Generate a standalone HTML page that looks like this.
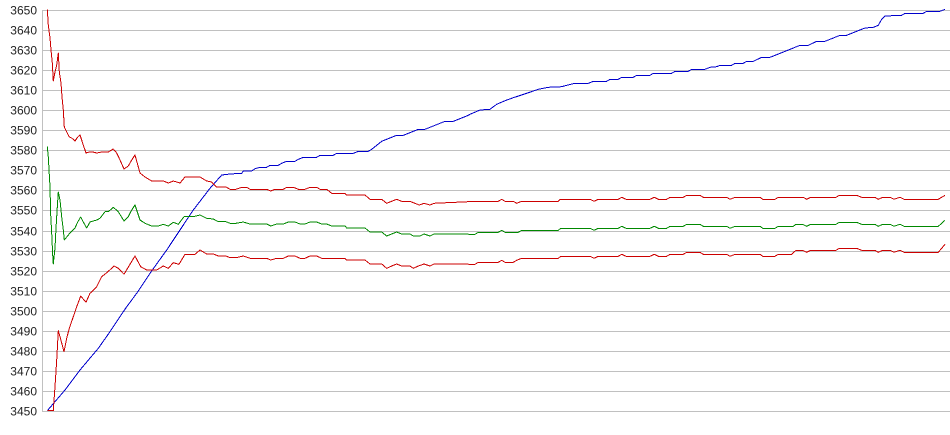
<!DOCTYPE html>
<html><head><meta charset="utf-8"><style>
html,body{margin:0;padding:0;background:#fff;width:950px;height:435px;overflow:hidden}
svg{display:block}
text{font-family:"Liberation Sans",Arial,sans-serif;font-size:12px;fill:#222}
</style></head><body>
<svg width="950" height="435" viewBox="0 0 950 435" xmlns="http://www.w3.org/2000/svg">
<g stroke="#c0c0c0" stroke-width="1" shape-rendering="crispEdges">
<line x1="42" y1="10.5" x2="950" y2="10.5"/>
<line x1="42" y1="30.5" x2="950" y2="30.5"/>
<line x1="42" y1="50.5" x2="950" y2="50.5"/>
<line x1="42" y1="70.5" x2="950" y2="70.5"/>
<line x1="42" y1="90.5" x2="950" y2="90.5"/>
<line x1="42" y1="110.5" x2="950" y2="110.5"/>
<line x1="42" y1="130.5" x2="950" y2="130.5"/>
<line x1="42" y1="150.5" x2="950" y2="150.5"/>
<line x1="42" y1="170.5" x2="950" y2="170.5"/>
<line x1="42" y1="190.5" x2="950" y2="190.5"/>
<line x1="42" y1="210.5" x2="950" y2="210.5"/>
<line x1="42" y1="231.5" x2="950" y2="231.5"/>
<line x1="42" y1="251.5" x2="950" y2="251.5"/>
<line x1="42" y1="271.5" x2="950" y2="271.5"/>
<line x1="42" y1="291.5" x2="950" y2="291.5"/>
<line x1="42" y1="311.5" x2="950" y2="311.5"/>
<line x1="42" y1="331.5" x2="950" y2="331.5"/>
<line x1="42" y1="351.5" x2="950" y2="351.5"/>
<line x1="42" y1="371.5" x2="950" y2="371.5"/>
<line x1="42" y1="391.5" x2="950" y2="391.5"/>
<line x1="42" y1="411.5" x2="950" y2="411.5"/>
<line x1="42.5" y1="10" x2="42.5" y2="412"/>
</g>
<g text-anchor="end" dominant-baseline="central">
<text x="37" y="10.5">3650</text>
<text x="37" y="30.5">3640</text>
<text x="37" y="50.5">3630</text>
<text x="37" y="70.5">3620</text>
<text x="37" y="90.5">3610</text>
<text x="37" y="110.5">3600</text>
<text x="37" y="130.5">3590</text>
<text x="37" y="150.5">3580</text>
<text x="37" y="170.5">3570</text>
<text x="37" y="190.5">3560</text>
<text x="37" y="210.5">3550</text>
<text x="37" y="231.5">3540</text>
<text x="37" y="251.5">3530</text>
<text x="37" y="271.5">3520</text>
<text x="37" y="291.5">3510</text>
<text x="37" y="311.5">3500</text>
<text x="37" y="331.5">3490</text>
<text x="37" y="351.5">3480</text>
<text x="37" y="371.5">3470</text>
<text x="37" y="391.5">3460</text>
<text x="37" y="411.5">3450</text>
</g>
<g fill="none" stroke-width="1" stroke-linejoin="round" shape-rendering="crispEdges">
<polyline stroke="#0000cc" points="47.3,410.7 65,390 80,370 98.3,348.3 110,331.7 126.7,306.7 136.7,293.3 150,273.3 166.7,250 180,230 193.3,210 210,188.3 221.7,175 230,174 241.7,173.3 243.3,171 251.7,171 255,168.7 260,167.3 266.7,167.3 270,165.3 278.3,165.3 281.7,163.3 286.7,161.3 295,161.3 298.3,159.3 303.3,157.3 316.7,157.3 320,155.3 333.3,155.3 336.7,153.3 353.3,153.3 358.3,151.3 368.3,151.3 371.7,149.3 376.7,145.3 381.7,141.3 386.7,139.3 391.7,137.3 396.7,135.3 403.3,135.3 408.3,133.3 413.3,131.3 418.3,129.3 425,129.3 430,127.3 435,125.3 440,123.3 445,121.3 453.3,121.3 458.3,119.3 463.3,117.3 468.3,115.3 470,114.3 480,110 490,109.3 496.7,104.3 505,100.7 513.3,97.7 526.7,93.3 538.3,89.3 548.3,87.3 561.7,86.7 566.7,85.3 575,83.3 588.3,83.3 593.3,81.3 606.7,81.3 610,79.3 618.3,79.3 621.7,77.3 633.3,77.3 636.7,75.3 650,75.3 653.3,73.3 671.7,73.3 675,71.3 688.3,71.3 691.7,69.3 705,69.3 710,67.3 716.7,66.7 720,65.3 731.7,65.3 735,63.3 743.3,63.3 746.7,61.3 753.3,61.3 761.7,57.3 770,57.3 776.7,54.7 786.7,50.7 795,47.3 800,45.3 808.3,45.3 816.7,41.3 825,41.3 833.3,38 840,35.3 846.7,35.3 856.7,31.3 865,28 873.3,27.3 878.3,25.3 881.7,19.3 885,16 901.7,15.3 905,13.3 923.3,13.3 926.7,11.3 940,11.3 945,9.3"/>
<polyline stroke="#cc0000" points="47.3,9.3 48.3,25 50,38 51,50 52.3,63 53.3,81 55,72 56.7,65 58.3,53 59.3,72 61,83 62,97 63.3,110 64.3,127 66.7,132 69.3,137 71.7,138 75,141 77.7,137 80,135 83.3,145 86,153 89.3,152 92.7,152 96.7,153 101.7,152 108.3,152 113.3,149 116.7,153 120,160 124,169 128.3,166 131.7,160 135,155 140,173 145,177 151.7,181 163.3,181 168.3,183 173.3,181 176.7,182 180,183 185,177 200,177 206.7,181 211.7,182 216.7,187 226,187 230,189.3 236,189.3 241.7,187.3 246.7,187.3 250,189.3 266.7,189.3 270.7,191 275,189.3 283.3,189.3 286.7,187.3 293.3,187.3 298.3,189.3 305,189.3 310,187.3 316.7,187.3 320,189.3 326.7,189.3 331.7,193.3 345,193.3 346.7,195 365,195 370,199.3 381.7,199.3 386.7,203.3 391.7,201.3 396.7,199.3 401.7,201.3 410,201.3 413.3,202.7 419.3,205 424,203.3 430,205 434,203.3 476.7,201.3 498.3,201.3 501.7,199.3 505,201.3 513.3,201.3 516.7,203.3 521.7,201.3 558.3,201.3 560,199.3 590,199.3 594,201.3 598.3,199.3 618.3,199.3 621.7,197.3 626,199.3 650,199.3 654.3,197.3 658.3,199.3 666.7,199.3 670,197.3 683.3,197.3 686.7,195.3 700,195.3 703.3,197.3 726.7,197.3 730,199.3 735,197.3 760,197.3 762.7,199.3 775,199.3 778.3,197.3 803.3,197.3 806.7,199.3 810.7,197.3 836,197.3 839.3,195.3 856.7,195.3 861.7,197.3 875,197.3 878.3,199.3 882.7,197.3 890,197.3 894,199.3 900,197.3 904,199.3 938.3,199.3 945,195.3"/>
<polyline stroke="#008800" points="47.3,146.7 48.3,157 50,187 50.7,215 51.7,233 52.7,255 53.3,264 55,248 56,228 57.3,207 58.3,192 60,200 61.7,217 63.3,230 64.3,240 66.7,237 70,233 75,228 77.7,222 80.7,217 83.3,222 86.7,228 90,222 96.7,220 100,218.3 105,211.7 108.3,211.7 113.3,207.3 118.3,211.7 124,221 128.3,216.7 131.7,210 135,205 140,220 145,223.3 151.7,226 158.3,226 163.3,224.3 168.3,226 173.3,222.3 178.3,224.3 184,216.7 193.3,216.7 200,215 206.7,218.3 213.3,219 218.3,221.7 226,221.7 230,223.3 236,223.3 243.3,222 250,224 266.7,224 270.7,226 276.7,224 283.3,224 288.3,222 295,222 300,224 305,224 310,222 316.7,222 321.7,224 326.7,224 331.7,226 345,226 346.7,228 365,228 370,232 381.7,232 386.7,236 391.7,234 396.7,232 401.7,234 410,234 413.3,236 420,236 424,234 430,236 434,234 475,234.3 478.3,232.3 498.3,232.3 501.7,230.3 505,232.3 518.3,232.3 521.7,230.3 558.3,230.3 560.7,228.3 590,228.3 594,230.3 598.3,228.3 618.3,228.3 621.7,226.3 626,228.3 650,228.3 654.3,226.3 658.3,228.3 666.7,228.3 670,226.3 683.3,226.3 686.7,224.3 700,224.3 703.3,226.3 726.7,226.3 730,228.3 735,226.3 760,226.3 762.7,228.3 775,228.3 778.3,226.3 793.3,226.3 796,224.3 802.7,224.3 806.7,226.3 810.7,224.3 836,224.3 839.3,222.3 856.7,222.3 861.7,224.3 875,224.3 878.3,226.3 882.7,224.3 890,224.3 894,226.3 900,224.3 904,226.3 938.3,226.3 945,220.3"/>
<polyline stroke="#cc0000" points="47.3,410.7 53.3,410.7 55,386.7 56.7,360 58.3,330.7 60,336.7 64,351.7 66.7,338.3 69.3,328.3 73.3,316.7 76.7,306.7 80.7,296 86,302.3 90,293.3 96.7,286.7 101.7,276.7 107.3,272.3 114,266 118.3,268.3 124,274.3 130,264.3 135,256 140.7,266.7 146.7,270 156.7,270 163.3,266 168.3,268.3 173.3,262.7 179,264.3 185,254.3 195,254.3 200,250 206.7,254 213.3,254 218.3,256 226,256 230,257.7 236,257.7 243.3,256 250,258.3 266.7,258.3 270.7,260 276.7,258.3 283.3,258.3 288.3,256 295,256 300,258.3 305,258.3 310,256 316.7,256 321.7,258.3 345,258.3 346.7,260 365,260 370,264 381.7,264 386.7,268.3 391.7,266 396.7,264 401.7,266 410,266 413.3,268.3 418.3,266 424,264 430,266 434,264 475,264.3 478.3,262.3 498.3,262.3 501.7,260.3 505,262.3 513.3,262.3 516.7,260.3 521.7,258.3 558.3,258.3 560.7,256.3 590,256.3 594,258.3 598.3,256.3 618.3,256.3 621.7,254.3 626,256.3 650,256.3 654.3,254.3 658.3,256.3 666.7,256.3 670,254.3 683.3,254.3 686.7,252.3 700,252.3 703.3,254.3 726.7,254.3 730,256.3 735,254.3 760,254.3 762.7,256.3 775,256.3 778.3,254.3 791.7,254.3 796,250.3 802.7,250.3 806.7,252.3 810.7,250.3 836,250.3 839.3,248.3 856.7,248.3 861.7,250.3 875,250.3 878.3,252.3 882.7,250.3 890,250.3 894,252.3 900,250.3 904,252.3 938.3,252.3 945,244.3"/>
</g>
</svg>
</body></html>
